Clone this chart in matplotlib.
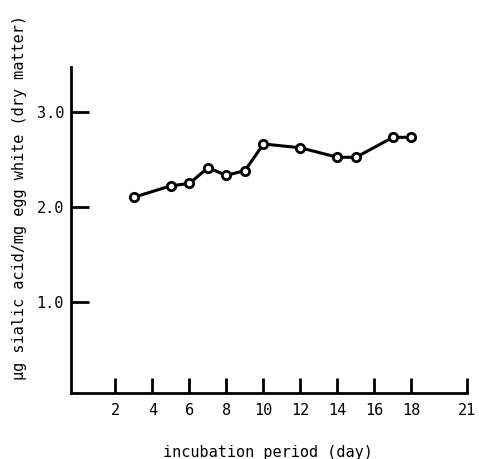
import matplotlib
matplotlib.use("Agg")
from matplotlib import pyplot as plt

# datos
days = [3, 5, 6, 7, 8, 9, 10, 12, 14, 15, 17, 18]
sialic = [2.10, 2.22, 2.245, 2.41, 2.33, 2.38, 2.66, 2.62, 2.52, 2.52, 2.73, 2.73]
x_ticks = [2, 4, 6, 8, 10, 12, 14, 16, 18, 21]
y_ticks = [1.0, 2.0, 3.0]
y_tick_labels = ["1.0", "2.0", "3.0"]

plt.rcParams['font.family'] = ['DejaVu Sans Mono', 'DejaVu Sans']
plt.rcParams['font.size'] = 11

fig = plt.figure(figsize=(4.79, 4.59), dpi=100)
ax = fig.add_axes([71 / 479, 66 / 459, 396 / 479, 326 / 459])

ax.plot(days, sialic, color='black', lw=2.2, marker='o', ms=6,
        mfc='white', mec='black', mew=2, zorder=3)

ax.set_xlim(-0.4, 21)
ax.set_ylim(0.04, 3.47)

ax.spines['top'].set_visible(False)
ax.spines['right'].set_visible(False)
ax.spines['left'].set_linewidth(2)
ax.spines['bottom'].set_linewidth(2)

ax.set_xticks(x_ticks)
ax.set_yticks(y_ticks)
ax.set_yticklabels(y_tick_labels)
ax.tick_params(axis='x', direction='in', length=11, width=2, pad=7)
ax.tick_params(axis='y', direction='in', length=13, width=2, pad=5)

fig.text(268 / 479, 1 - 453 / 459, "incubation period (day)", ha='center', va='center')
fig.text(20 / 479, 1 - 198 / 459, "μg sialic acid/mg egg white (dry matter)",
         ha='center', va='center', rotation=90)

fig.savefig("out.png", dpi=100)
